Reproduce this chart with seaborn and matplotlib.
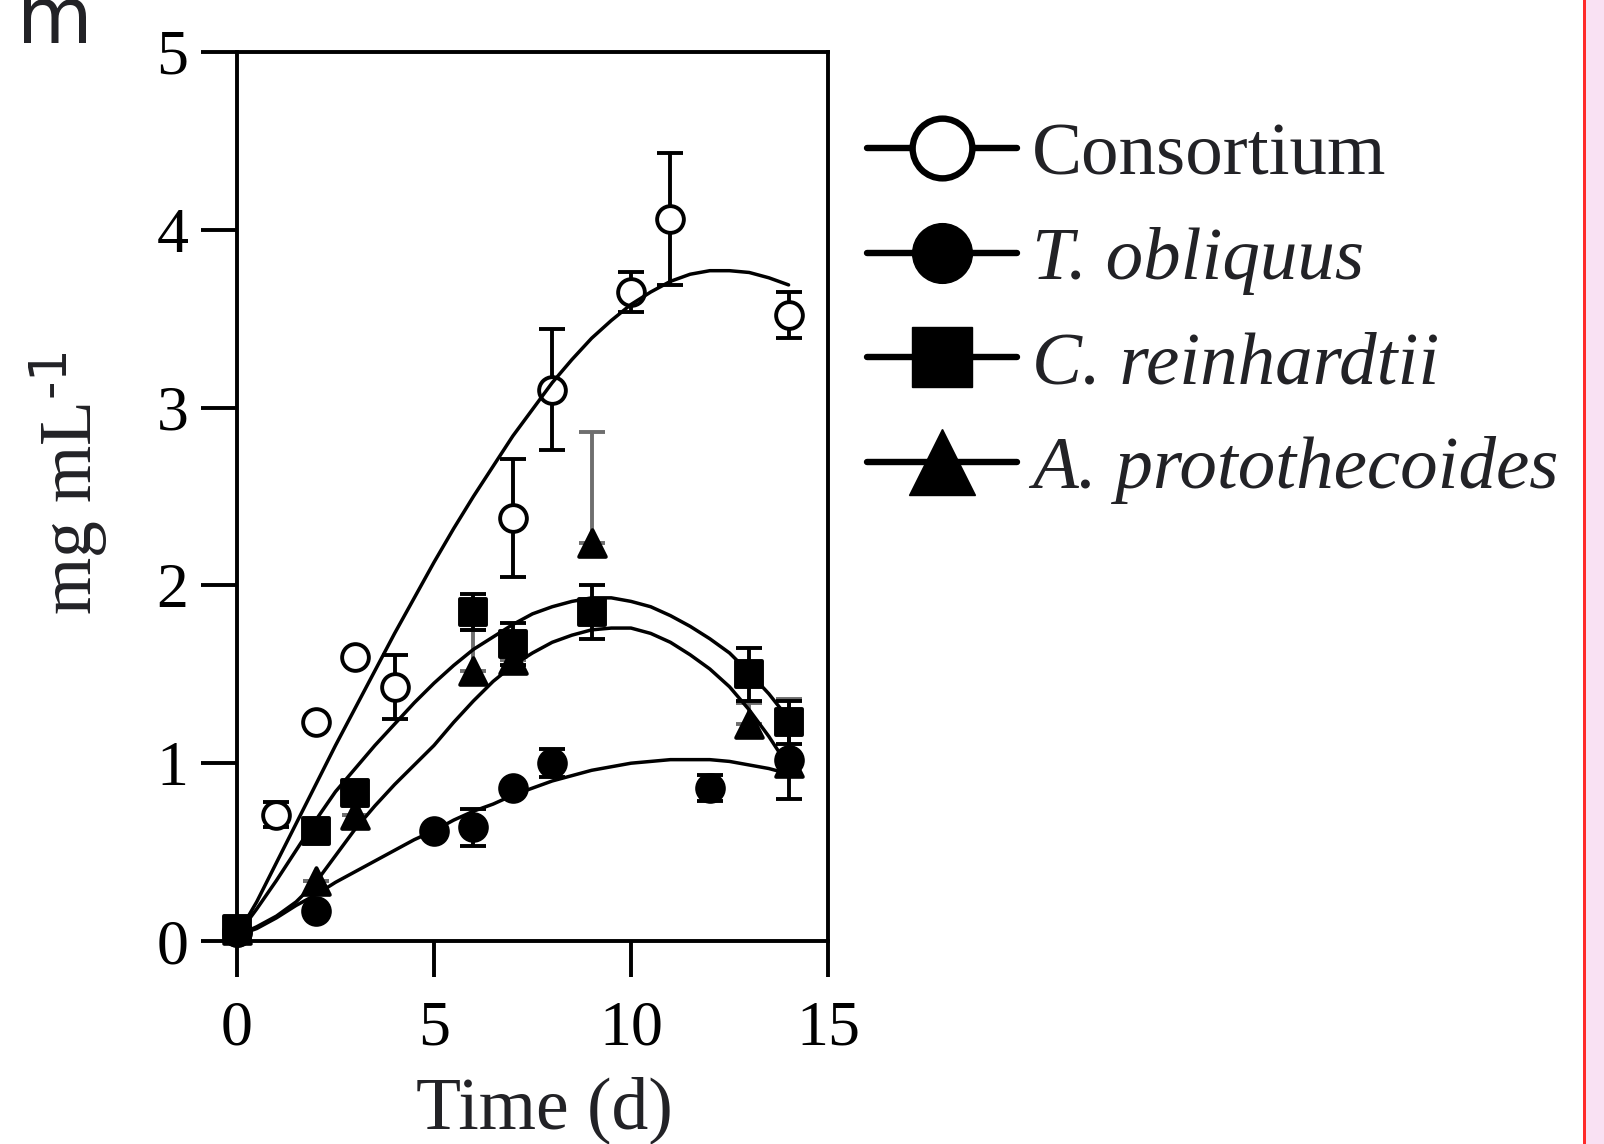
import numpy as np
import pandas as pd
import matplotlib
matplotlib.use("Agg")
import matplotlib.pyplot as plt
import seaborn as sns
from matplotlib.lines import Line2D
from matplotlib.patches import Rectangle

# measured points (day, mg/mL, error)
cons_days = [0, 1, 2, 3, 4, 7, 8, 10, 11, 14]
cons_vals = [0.05, 0.71, 1.23, 1.60, 1.43, 2.38, 3.10, 3.65, 4.06, 3.52]
cons_err = [0, 0.07, 0, 0, 0.18, 0.33, 0.34, 0.11, 0.37, 0.13]

tobl_days = [0, 2, 5, 6, 7, 8, 12, 14]
tobl_vals = [0.05, 0.17, 0.62, 0.64, 0.86, 1.00, 0.86, 1.02]
tobl_err = [0, 0, 0, 0.105, 0, 0.08, 0.075, 0.22]

crei_days = [0, 2, 3, 6, 7, 9, 13, 14]
crei_vals = [0.07, 0.62, 0.83, 1.85, 1.67, 1.85, 1.50, 1.23]
crei_err = [0, 0, 0, 0.10, 0.12, 0.15, 0.15, 0.12]

# A. protothecoides bars only show the upper half
apro_days = [0, 2, 3, 6, 7, 9, 13, 14]
apro_vals = [0.06, 0.34, 0.71, 1.52, 1.58, 2.24, 1.22, 1.00]
apro_err = [0, 0, 0, 0.23, 0, 0.62, 0.12, 0.36]

# fitted curves every half day
curve_days = [i / 2 for i in range(29)]
cons_fit = [0.03, 0.22, 0.44, 0.66, 0.88, 1.10, 1.31, 1.52, 1.73, 1.93, 2.13, 2.32, 2.50,
            2.67, 2.84, 2.99, 3.14, 3.27, 3.39, 3.49, 3.58, 3.65, 3.71, 3.75, 3.77, 3.77,
            3.76, 3.73, 3.69]
tobl_fit = [0.03, 0.07, 0.13, 0.20, 0.26, 0.33, 0.39, 0.45, 0.51, 0.57, 0.62, 0.68, 0.73,
            0.77, 0.82, 0.86, 0.90, 0.93, 0.96, 0.98, 1.00, 1.01, 1.02, 1.02, 1.02, 1.01,
            0.99, 0.97, 0.94]
crei_fit = [0.03, 0.18, 0.34, 0.51, 0.68, 0.84, 0.97, 1.10, 1.22, 1.34, 1.45, 1.55, 1.64,
            1.71, 1.78, 1.84, 1.88, 1.91, 1.93, 1.93, 1.91, 1.88, 1.83, 1.77, 1.70, 1.62,
            1.51, 1.39, 1.25]
apro_fit = [0.03, 0.08, 0.14, 0.22, 0.33, 0.48, 0.63, 0.76, 0.88, 0.99, 1.10, 1.23, 1.35,
            1.46, 1.55, 1.62, 1.68, 1.72, 1.75, 1.76, 1.76, 1.73, 1.68, 1.61, 1.53, 1.43,
            1.30, 1.15, 0.98]

labels = ["Consortium", "T. obliquus", "C. reinhardtii", "A. protothecoides"]

sns.set_style("ticks")
plt.rcParams["font.family"] = ["Liberation Serif", "DejaVu Serif"]
plt.rcParams["mathtext.default"] = "regular"

fig = plt.figure(figsize=(16.04, 11.44), dpi=100)
ax = fig.add_axes([237 / 1604, 1 - 941 / 1144, 591 / 1604, 889 / 1144])

curve_df = pd.concat([
    pd.DataFrame({"day": curve_days, "mg": v, "series": n})
    for n, v in zip(labels, [cons_fit, tobl_fit, crei_fit, apro_fit])
])
sns.lineplot(data=curve_df, x="day", y="mg", units="series", estimator=None,
             color="black", linewidth=2.5, ax=ax, zorder=5, legend=False)

series = [
    (cons_days, cons_vals, [cons_err, cons_err], "o", "white", "black", 2.0),
    (apro_days, apro_vals, [[0] * len(apro_err), apro_err], "^", "black", "#6e6e6e", 2.2),
    (crei_days, crei_vals, [crei_err, crei_err], "s", "black", "black", 2.4),
    (tobl_days, tobl_vals, [tobl_err, tobl_err], "o", "black", "black", 2.6),
]
for d, v, e, m, face, ecol, z in series:
    ax.errorbar(d, v, yerr=e, fmt="none", ecolor=ecol, elinewidth=2.8,
                capsize=9.7, capthick=2.8, zorder=z, clip_on=False)
    sns.scatterplot(x=d, y=v, marker=m, s=370, color=face, edgecolor="black",
                    linewidth=2.8, ax=ax, zorder=z + 0.05, clip_on=False)

ax.set_xlim(0, 15)
ax.set_ylim(0, 5)
ax.set_xticks([0, 5, 10, 15])
ax.set_yticks([0, 1, 2, 3, 4, 5])
ax.tick_params(direction="out", length=26, width=2.8, labelsize=46,
               colors="black", pad=9)
ax.tick_params(axis="x", pad=17)
for sp in ax.spines.values():
    sp.set_linewidth(2.8)
    sp.set_color("black")

ax.set_xlabel("Time (d)", fontsize=53, color="#222226")
ax.set_ylabel(r"mg mL$^{\text{-1}}$", fontsize=53, color="#222226")
ax.xaxis.set_label_coords(0.52, -0.152)
ax.yaxis.set_label_coords(-0.215, 0.515)

handles = [
    Line2D([], [], color="black", lw=4.6, marker="o", ms=43, mfc="white", mec="black", mew=4.6),
    Line2D([], [], color="black", lw=4.6, marker="o", ms=43, mfc="black", mec="black"),
    Line2D([], [], color="black", lw=4.6, marker="s", ms=43, mfc="black", mec="black"),
    Line2D([], [], color="black", lw=4.6, marker="^", ms=47, mfc="black", mec="black"),
]
leg = ax.legend(handles, labels, loc="upper left",
                bbox_to_anchor=(867 / 1604, 1 - 122 / 1144),
                bbox_transform=fig.transFigure, frameon=False, fontsize=54,
                handlelength=2.0, handletextpad=0.2, labelspacing=0.48,
                borderpad=0, borderaxespad=0)
for i, t in enumerate(leg.get_texts()):
    t.set_color("#222226")
    if i > 0:
        t.set_style("italic")

# cropped panel letter and side strip from the source page
fig.text(17 / 1604, 1 - 43 / 1144, "m", fontsize=56, family="DejaVu Sans",
         color="#222226", ha="left", va="baseline")
fig.add_artist(Rectangle((1586 / 1604, 0), 18 / 1604, 1, transform=fig.transFigure,
                         facecolor="#f9e1f3", edgecolor="none"))
fig.add_artist(Rectangle((1583 / 1604, 0), 3 / 1604, 1, transform=fig.transFigure,
                         facecolor="#ff2a2a", edgecolor="none"))

fig.savefig("out.png", dpi=100)
